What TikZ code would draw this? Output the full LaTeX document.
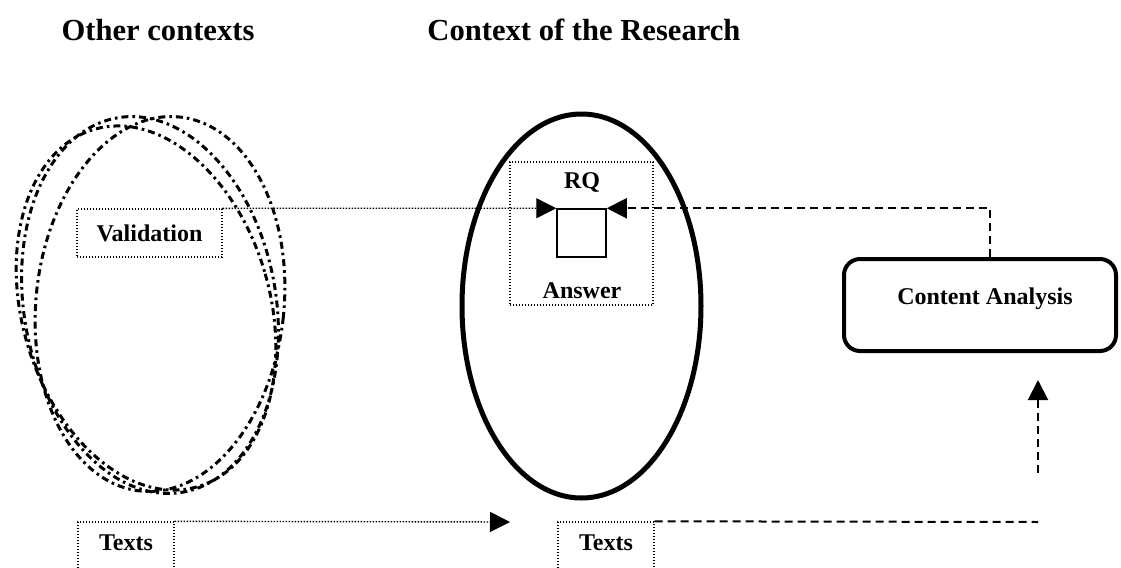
\documentclass[tikz,border=0pt]{standalone}
\usepackage{fontspec}
\setmainfont{Liberation Serif}
\usepackage{tikz}
\usetikzlibrary{positioning,arrows.meta}

\begin{document}
\begin{tikzpicture}[x=0.5pt,y=-0.5pt,>={Triangle[length=10pt,width=10pt]},
  ctxtitle/.style={font=\fontsize{15.3}{18}\selectfont\bfseries},
  lbl/.style={font=\fontsize{12}{14}\selectfont\bfseries},
  dotbox/.style={draw,line width=0.7pt,dash pattern=on 0.7pt off 0.8pt,inner sep=0pt},
  dotline/.style={line width=0.7pt,dash pattern=on 0.7pt off 0.8pt},
  dashline/.style={line width=1pt,dash pattern=on 4pt off 2.5pt},
  dashdot/.style={line width=1.5pt,dash pattern=on 3.5pt off 2pt on 1.3pt off 2pt}]
\clip (0,0) rectangle (1121,568);
\fill[white] (0,0) rectangle (1121,568);
% titles
\node[ctxtitle,anchor=base] (othert) at (158,40) {Other contexts};
\node[ctxtitle,anchor=base] (resct) at (584,40) {Context of the Research};
% other contexts
\draw[dashdot,rotate around={10:(150,305)}] (150,305) ellipse [x radius=126, y radius=190];
\draw[dashdot,rotate around={-6:(160,304)}] (160,304) ellipse [x radius=124, y radius=188];
\draw[dashdot,rotate around={16:(146,308)}] (146,308) ellipse [x radius=124, y radius=186];
\node[dotbox,lbl,minimum width=72.5pt,minimum height=24pt] (val) at (149.5,233) {Validation};
\node[dotbox,lbl,text height=14pt,text depth=16pt,minimum width=48pt,anchor=base] (txtl) at (126,550) {Texts};
% context of the research
\draw[line width=2.5pt] (581.5,306) ellipse [x radius=119.5, y radius=192];
\node[dotbox,minimum width=71.5pt,minimum height=71.5pt] (rqbox) at (581.5,233.5) {};
\node[lbl,anchor=base] (rq) at (582,188) {RQ};
\node[lbl,anchor=base] (ans) at (582,298) {Answer};
\node[draw,line width=0.75pt,minimum width=24.5pt,minimum height=24pt,inner sep=0pt] (sq) at (581.5,233) {};
\node[dotbox,lbl,text height=14pt,text depth=16pt,minimum width=48pt,anchor=base] (txtr) at (606,550) {Texts};
% content analysis
\node[draw,line width=2pt,rounded corners=8pt,minimum width=136pt,minimum height=46pt,inner sep=0pt] (ca) at (980,305) {};
\node[lbl,anchor=base] (catext) at (985,304) {Content Analysis};
% connectors
\draw[dotline,->] (val.north east) -- (sq.north west);
\draw[dashline,->] ([xshift=5pt]ca.north) |- (sq.north east);
\coordinate (tipl) at (510,522);
\draw[dotline,->] (txtl.north east) -- (tipl);
\coordinate (endr) at (1038,522);
\draw[dashline] (txtr.north east) -- (endr);
\coordinate (vbot) at (1038,473);
\coordinate (vtop) at (1038,380);
\draw[dashline,->] (vbot) -- (vtop);
\end{tikzpicture}
\end{document}
